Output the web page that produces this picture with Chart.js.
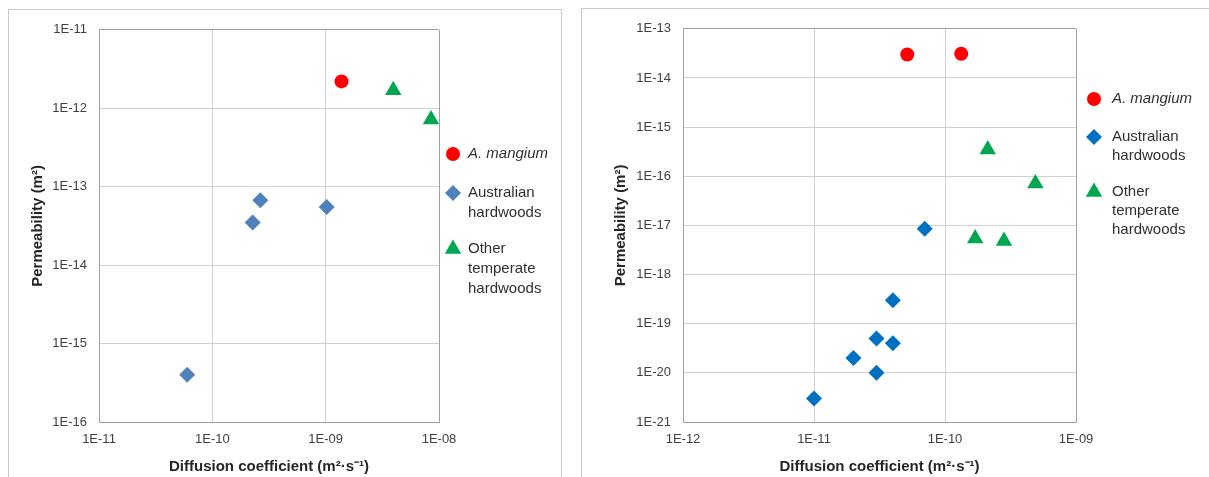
<!DOCTYPE html>
<html>
<head>
<meta charset="utf-8">
<script src="https://cdn.jsdelivr.net/npm/chart.js@4"></script>
<style>
  body { margin: 0; background: #fff; width: 1209px; height: 477px; overflow: hidden; position: relative; font-family: "Liberation Sans", Arial, sans-serif; }
  .box { position: absolute; border: 1px solid #c8c8c8; border-bottom: none; background: #fff; }
  #box1 { left: 8px; top: 9px; width: 552px; height: 470px; }
  #box2 { left: 581px; top: 8px; width: 640px; height: 470px; }
  canvas { position: absolute; left: 0; top: 0; }
</style>
</head>
<body>
<div class="box" id="box1"><canvas id="chartLeft" width="552" height="467"></canvas></div>
<div class="box" id="box2"><canvas id="chartRight" width="627" height="468"></canvas></div>
<script>
// series names and legend lines
const seriesNames = ['A. mangium', 'Australian hardwoods', 'Other temperate hardwoods'];
const legendLines = [['A. mangium'], ['Australian', 'hardwoods'], ['Other', 'temperate', 'hardwoods']];

// left panel: [diffusion coefficient, permeability]
const leftMangium = [[1.38e-9, 2.2e-12]];
const leftAustralian = [[6.0e-11, 4.0e-16], [2.27e-10, 3.5e-14], [2.65e-10, 6.7e-14], [1.02e-9, 5.5e-14]];
const leftOther = [[3.95e-9, 1.7e-12], [8.5e-9, 7.2e-13]];
const leftXTicks = [1e-11, 1e-10, 1e-9, 1e-8];
const leftYTicks = [1e-16, 1e-15, 1e-14, 1e-13, 1e-12, 1e-11];

// right panel
const rightMangium = [[5.15e-11, 3.0e-14], [1.33e-10, 3.1e-14]];
const rightAustralian = [[1.0e-11, 3.0e-21], [2.0e-11, 2.0e-20], [3.0e-11, 1.0e-20], [3.0e-11, 5.0e-20],
  [4.0e-11, 4.0e-20], [4.0e-11, 3.0e-19], [7.0e-11, 8.5e-18]];
const rightOther = [[2.12e-10, 3.5e-16], [4.9e-10, 7.1e-17], [1.7e-10, 5.4e-18], [2.82e-10, 4.8e-18]];
const rightXTicks = [1e-12, 1e-11, 1e-10, 1e-9];
const rightYTicks = [1e-21, 1e-20, 1e-19, 1e-18, 1e-17, 1e-16, 1e-15, 1e-14, 1e-13];

const xTitle = 'Diffusion coefficient (m\u00B2\u00B7s\u207B\u00B9)';
const yTitle = 'Permeability (m\u00B2)';

// excel style: 1E-09
function fmt(v) {
    const e = Math.round(Math.log10(v));
    const a = Math.abs(e);
    return '1E' + (e < 0 ? '-' : '+') + (a < 10 ? '0' + a : a);
}

function toPoints(arr) {
    return arr.map(p => ({x: p[0], y: p[1]}));
}

const sideLegend = {
    id: 'sideLegend',
    afterDraw(chart) {
        const o = chart.options.plugins.sideLegend;
        const ctx = chart.ctx;
        const area = chart.chartArea;
        ctx.save();
        chart.data.datasets.forEach((ds, i) => {
            const top = o.tops[i];
            ctx.fillStyle = ds.backgroundColor;
            Chart.helpers.drawPoint(ctx, {pointStyle: ds.pointStyle, radius: ds.pointRadius, rotation: 0, borderWidth: 0}, area.right + o.markerX, top);
            ctx.fillStyle = '#303030';
            ctx.font = (i === 0 ? 'italic ' : '') + o.fontSize + 'px "Liberation Sans", Arial, sans-serif';
            ctx.textBaseline = 'middle';
            ctx.textAlign = 'left';
            legendLines[i].forEach((line, j) => {
                ctx.fillText(line, area.right + o.textX, top + j * o.lineHeight);
            });
        });
        ctx.restore();
    }
};

function makeChart(id, sets, xTicks, yTicks, cfg) {
    const ctx = document.getElementById(id);
    const edgeColor = (c) => (c.index === 0 || c.index === c.chart.scales[c.scale.id].ticks.length - 1) ? '#a0a0a0' : '#d0d0d0';
    return new Chart(ctx, {
        type: 'scatter',
        data: {
            datasets: [{
                label: seriesNames[0],
                data: toPoints(sets[0]),
                pointStyle: 'circle',
                pointRadius: 7,
                backgroundColor: '#ff0000',
                borderWidth: 0
            }, {
                label: seriesNames[1],
                data: toPoints(sets[1]),
                pointStyle: 'rectRot',
                pointRadius: 8,
                backgroundColor: cfg.blue,
                borderWidth: 0
            }, {
                label: seriesNames[2],
                data: toPoints(sets[2]),
                pointStyle: 'triangle',
                pointRadius: 9.5,
                backgroundColor: '#00a650',
                borderWidth: 0
            }]
        },
        plugins: [sideLegend],
        options: {
            responsive: false,
            animation: false,
            clip: false,
            layout: {padding: {left: 0, top: cfg.top, right: cfg.right, bottom: 0}},
            plugins: {
                legend: {display: false},
                tooltip: {enabled: false},
                sideLegend: cfg.legend
            },
            scales: {
                x: {
                    type: 'logarithmic',
                    min: xTicks[0],
                    max: xTicks[xTicks.length - 1],
                    afterBuildTicks: (s) => { s.ticks = xTicks.map(v => ({value: v})); },
                    afterFit: (s) => { s.height = cfg.xHeight; },
                    ticks: {
                        callback: (v) => fmt(v),
                        color: '#404040',
                        font: {size: 13, family: '"Liberation Sans", Arial, sans-serif'},
                        padding: 10,
                        maxRotation: 0
                    },
                    grid: {color: edgeColor, drawTicks: false},
                    border: {color: '#a0a0a0'},
                    title: {
                        display: true,
                        text: xTitle,
                        color: '#262626',
                        font: {size: 15, weight: 'bold', family: '"Liberation Sans", Arial, sans-serif'},
                        padding: {top: 0, bottom: 1}
                    }
                },
                y: {
                    type: 'logarithmic',
                    min: yTicks[0],
                    max: yTicks[yTicks.length - 1],
                    afterBuildTicks: (s) => { s.ticks = yTicks.map(v => ({value: v})); },
                    afterFit: (s) => { s.width = cfg.yWidth; },
                    ticks: {
                        callback: (v) => fmt(v),
                        color: '#404040',
                        font: {size: 13, family: '"Liberation Sans", Arial, sans-serif'},
                        padding: 12
                    },
                    grid: {color: edgeColor, drawTicks: false},
                    border: {color: '#a0a0a0'},
                    title: {
                        display: true,
                        text: yTitle,
                        color: '#262626',
                        font: {size: 15, weight: 'bold', family: '"Liberation Sans", Arial, sans-serif'},
                        padding: {top: cfg.yTitlePad, bottom: 0}
                    }
                }
            }
        }
    });
}

makeChart('chartLeft', [leftMangium, leftAustralian, leftOther], leftXTicks, leftYTicks, {
    blue: '#4f81bd', top: 15, right: 122, xHeight: 55, yWidth: 90, yTitlePad: 20,
    legend: {markerX: 14, textX: 29, fontSize: 15, lineHeight: 20, tops: [144, 183, 239]}
});
makeChart('chartRight', [rightMangium, rightAustralian, rightOther], rightXTicks, rightYTicks, {
    blue: '#0070c0', top: 16, right: 133, xHeight: 55, yWidth: 101, yTitlePad: 30,
    legend: {markerX: 18, textX: 36, fontSize: 15, lineHeight: 19, tops: [90, 128, 183]}
});
</script>
</body>
</html>
